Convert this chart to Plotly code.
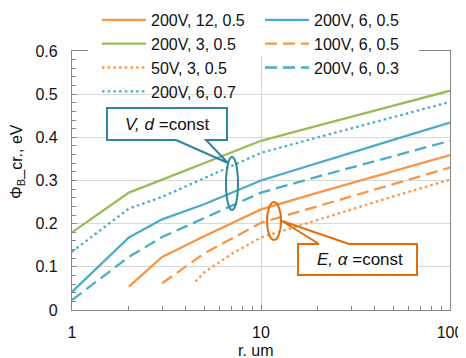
import plotly.graph_objects as go

# ---------------- data ----------------
r_200_12_05 = [2, 3, 5, 10, 20, 50, 100]
v_200_12_05 = [0.054, 0.123, 0.171, 0.233, 0.272, 0.321, 0.359]

r_200_6_05 = [1, 2, 3, 5, 10, 20, 50, 100]
v_200_6_05 = [0.042, 0.168, 0.210, 0.245, 0.300, 0.341, 0.394, 0.434]

r_200_3_05 = [1, 2, 3, 5, 10, 20, 50, 100]
v_200_3_05 = [0.180, 0.272, 0.302, 0.340, 0.392, 0.427, 0.473, 0.508]

r_100_6_05 = [3, 5, 10, 20, 50, 100]
v_100_6_05 = [0.062, 0.131, 0.202, 0.241, 0.291, 0.330]

r_50_3_05 = [4.5, 5, 7, 10, 20, 50, 100]
v_50_3_05 = [0.066, 0.087, 0.130, 0.168, 0.209, 0.263, 0.302]

r_200_6_03 = [1, 2, 3, 5, 10, 20, 50, 100]
v_200_6_03 = [0.023, 0.123, 0.169, 0.212, 0.272, 0.309, 0.356, 0.392]

r_200_6_07 = [1, 2, 3, 5, 10, 20, 50, 100]
v_200_6_07 = [0.135, 0.235, 0.262, 0.305, 0.364, 0.400, 0.446, 0.482]

series_names = ["200V, 12, 0.5", "200V, 6, 0.5", "200V, 3, 0.5", "100V, 6, 0.5",
                "50V, 3, 0.5", "200V, 6, 0.3", "200V, 6, 0.7"]

ORANGE = "#F79646"
GREEN = "#9BBB59"
BLUE = "#4BACC6"
CALL_BLUE = "#31859C"
CALL_ORANGE = "#E46C0A"

DASH = "12px,6px"
DOT = "2.5px,3.2px"

series = [
    (r_200_12_05, v_200_12_05, ORANGE, "solid"),
    (r_200_6_05, v_200_6_05, BLUE, "solid"),
    (r_200_3_05, v_200_3_05, GREEN, "solid"),
    (r_100_6_05, v_100_6_05, ORANGE, DASH),
    (r_50_3_05, v_50_3_05, ORANGE, DOT),
    (r_200_6_03, v_200_6_03, BLUE, DASH),
    (r_200_6_07, v_200_6_07, BLUE, DOT),
]

# page has an 8px body margin -> figure is drawn 8px to the right / down
OFF = 8
W, H = 466 - OFF, 358 - OFF
PL, PR, PT, PB = 72, 450, 51, 310   # plot area in page pixels
L, T = PL - OFF, PT - OFF
R = W - (PR - OFF)
B = H - (PB - OFF)
PW, PH = PR - PL, PB - PT


def px(xp):
    return (xp - PL) / PW


def py(yp):
    return (PB - yp) / PH


FONT = "Liberation Sans, Arial, sans-serif"

fig = go.Figure()
for (xs, ys, col, dash), name in zip(series, series_names):
    fig.add_trace(go.Scatter(x=xs, y=ys, mode="lines", name=name,
                             line=dict(color=col, width=2.3, dash=dash)))

AX = "#868686"
GRID = "#D9D9D9"

fig.update_xaxes(type="log", range=[0, 2], showline=True, linecolor=AX, linewidth=1.3,
                 mirror=True, showgrid=True, gridcolor=GRID, gridwidth=1,
                 tickvals=[1, 10, 100], ticktext=["1", "10", "100"],
                 ticks="inside", ticklen=5, tickcolor=AX,
                 minor=dict(ticks="inside", ticklen=4, tickcolor=AX, showgrid=False,
                            tickvals=[2, 3, 4, 5, 6, 7, 8, 9, 20, 30, 40, 50, 60, 70, 80, 90]),
                 tickfont=dict(size=16, color="#111"), ticklabelstandoff=8, zeroline=False)
fig.update_yaxes(range=[0, 0.6], showline=True, linecolor=AX, linewidth=1.3, mirror=True,
                 showgrid=True, gridcolor=GRID, gridwidth=1,
                 tickvals=[0, 0.1, 0.2, 0.3, 0.4, 0.5, 0.6],
                 ticktext=["0", "0.1", "0.2", "0.3", "0.4", "0.5", "0.6"],
                 ticks="inside", ticklen=5, tickcolor=AX,
                 minor=dict(ticks="inside", ticklen=4, tickcolor=AX, dtick=0.02, showgrid=False),
                 tickfont=dict(size=16, color="#111"), ticklabelstandoff=10, zeroline=False)

shapes = []
# white patch where the legend sits over the top frame line
shapes.append(dict(type="rect", xref="paper", yref="paper", x0=px(88), x1=px(419),
                   y0=py(56), y1=py(46), fillcolor="white", line=dict(width=0), layer="above"))
# V, d = const callout (box + wedge)
shapes.append(dict(type="rect", xref="paper", yref="paper", x0=px(107), x1=px(227),
                   y0=py(140), y1=py(108), fillcolor="white", line=dict(width=0), layer="above"))
pts = [(176, 140), (107, 140), (107, 108), (227, 108), (227, 140), (206, 140), (228, 163), (176, 140)]
path = "M" + " L".join(f"{px(a):.5f},{py(b):.5f}" for a, b in pts)
shapes.append(dict(type="path", xref="paper", yref="paper", path=path,
                   line=dict(color=CALL_BLUE, width=2), layer="above"))
shapes.append(dict(type="circle", xref="paper", yref="paper", x0=px(226), x1=px(238),
                   y0=py(210), y1=py(157), line=dict(color=CALL_BLUE, width=2), layer="above"))
# E, alpha = const callout
shapes.append(dict(type="rect", xref="paper", yref="paper", x0=px(298), x1=px(417),
                   y0=py(275), y1=py(244), fillcolor="white", line=dict(width=0), layer="above"))
pts = [(319, 244), (298, 244), (298, 275), (417, 275), (417, 244), (349, 244), (282, 221), (319, 244)]
path = "M" + " L".join(f"{px(a):.5f},{py(b):.5f}" for a, b in pts)
shapes.append(dict(type="path", xref="paper", yref="paper", path=path,
                   line=dict(color=CALL_ORANGE, width=2), layer="above"))
shapes.append(dict(type="circle", xref="paper", yref="paper", x0=px(267), x1=px(281),
                   y0=py(240), y1=py(202), line=dict(color=CALL_ORANGE, width=2), layer="above"))


def label(text, xp, yp, size=16, angle=0):
    return dict(text=text, x=px(xp), y=py(yp), xref="paper", yref="paper",
                xanchor="center", yanchor="middle", showarrow=False, textangle=angle,
                font=dict(size=size, color="#111", family=FONT))


annotations = [
    label("<i>V, d</i> =const", 167, 124, 17),
    label("<i>E, α</i> =const", 360, 260, 17),
    label("Φ<sub>B</sub>_cr., eV", 17, 162, 16, -90),
    label("r. um", 256, 350, 16),
]

fig.update_layout(
    width=W, height=H, margin=dict(l=L, r=R, t=T, b=B, autoexpand=False),
    paper_bgcolor="white", plot_bgcolor="white",
    font=dict(family=FONT, size=16, color="#111"),
    shapes=shapes, annotations=annotations,
    legend=dict(orientation="h", x=px(97), y=py(3), xanchor="left", yanchor="top",
                entrywidth=104, entrywidthmode="pixels", bgcolor="rgba(0,0,0,0)",
                font=dict(size=16, color="#111"), itemwidth=44, tracegroupgap=0),
    showlegend=True,
)

fig.write_html("out.html")
